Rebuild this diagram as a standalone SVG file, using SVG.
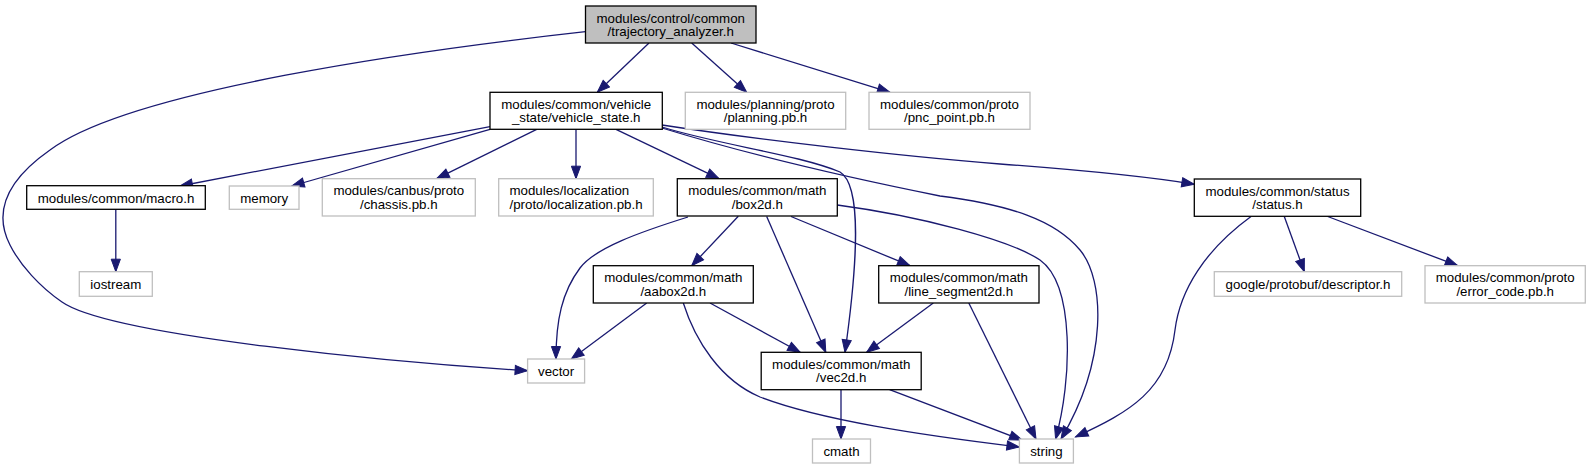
<svg xmlns="http://www.w3.org/2000/svg" width="1591" height="469" viewBox="0 0 1591 469">
<style>
.n rect{fill:#fff;stroke:#000;stroke-width:1.3}
.n.root rect{fill:#bfbfbf}
.n.ext rect{stroke:#bfbfbf}
.n text{font-family:"Liberation Sans",Arial,Helvetica,sans-serif;font-size:13.3px;fill:#000;text-anchor:middle}
.e path{fill:none;stroke:#191970;stroke-width:1.3;marker-end:url(#ah)}
</style>
<defs>
<marker id="ah" markerUnits="userSpaceOnUse" markerWidth="15" markerHeight="12" refX="12.5" refY="4.6" orient="auto" viewBox="-1 -1 15 12">
<path d="M0,0 L12.5,4.6 L0,9.2 z" fill="#191970" stroke="#191970" stroke-width="1"/>
</marker>
</defs>
<rect width="1591" height="469" fill="#fff"/>
<g id="edges" class="e">
<path d="M649,43 L597.3,92.3"/>
<path d="M691.7,43 L746.7,92.3"/>
<path d="M731,43 L890,92.3"/>
<path d="M585.5,31.7 C420,50 130,90 50,150 C10,178 -8,210 10,245 C20,265 40,287 62,302 C110,336 400,363 527.6,370.7"/>
<path d="M490,126.7 L180,186"/>
<path d="M490,129.3 L291.7,186"/>
<path d="M536.7,129.3 L436.7,178.7"/>
<path d="M576,129.3 L576,178.7"/>
<path d="M616,129.3 L719,178.7"/>
<path d="M662,127 C720,145 800,155 840,172 C862,185 858,260 845,352.3"/>
<path d="M662,128 C750,155 860,180 940,196 C1010,205 1055,220 1080,250 C1105,280 1108,360 1061,439"/>
<path d="M662,125 C760,140 900,156 1000,164 C1080,170 1150,177 1194.3,184.3"/>
<path d="M688,217 C640,232 595,248 580,268 C562,292 556,320 556,359"/>
<path d="M738.3,216.3 L691.7,265.7"/>
<path d="M766.7,216.5 L825.8,352.3"/>
<path d="M791,216.5 L910,265.7"/>
<path d="M837.3,205 C920,216 1010,240 1040,260 C1075,285 1072,380 1055.6,439"/>
<path d="M1251,216.5 C1205,250 1180,290 1175,330 C1168,390 1130,412 1075.5,437"/>
<path d="M1284.3,216.5 L1304.3,271.7"/>
<path d="M1327.7,216.5 L1457.7,265.7"/>
<path d="M115.8,209.3 L115.8,271.7"/>
<path d="M646.7,303 L571.4,359"/>
<path d="M710,303 L800.2,352.3"/>
<path d="M683.3,303 C695,340 720,380 760,397 C820,420 920,435 1019.4,447"/>
<path d="M933.3,303 L866.6,352.3"/>
<path d="M968.8,303 L1036,439"/>
<path d="M841,389.7 L841,439"/>
<path d="M889.6,389.7 L1022,440"/>
</g>
<g id="n1" class="n root"><rect x="585.5" y="6" width="170.5" height="37"/><text x="670.7" y="22.7">modules/control/common</text><text x="670.7" y="36">/trajectory_analyzer.h</text></g>
<g id="n2" class="n"><rect x="490" y="92.3" width="172.3" height="37"/><text x="576.2" y="109">modules/common/vehicle</text><text x="576.2" y="122.3">_state/vehicle_state.h</text></g>
<g id="n3" class="n ext"><rect x="685.3" y="92.3" width="160.4" height="37"/><text x="765.5" y="109">modules/planning/proto</text><text x="765.5" y="122.3">/planning.pb.h</text></g>
<g id="n4" class="n ext"><rect x="869" y="92.3" width="161" height="37"/><text x="949.5" y="109">modules/common/proto</text><text x="949.5" y="122.3">/pnc_point.pb.h</text></g>
<g id="n5" class="n"><rect x="26.7" y="185.7" width="178.6" height="23.6"/><text x="116" y="202.7">modules/common/macro.h</text></g>
<g id="n6" class="n ext"><rect x="229.3" y="186" width="69.7" height="23.3"/><text x="264.2" y="202.8">memory</text></g>
<g id="n7" class="n ext"><rect x="322.3" y="178.7" width="153" height="37.3"/><text x="398.8" y="195.4">modules/canbus/proto</text><text x="398.8" y="208.7">/chassis.pb.h</text></g>
<g id="n8" class="n ext"><rect x="498.7" y="178.7" width="154.6" height="37.3"/><text x="509.5" y="195.4" style="text-anchor:start">modules/localization</text><text x="509.5" y="208.7" style="text-anchor:start">/proto/localization.pb.h</text></g>
<g id="n9" class="n"><rect x="677.3" y="178.7" width="160" height="37.3"/><text x="757.3" y="195.4">modules/common/math</text><text x="757.3" y="208.7">/box2d.h</text></g>
<g id="n10" class="n"><rect x="1194.3" y="179" width="166.4" height="37.3"/><text x="1277.5" y="195.7">modules/common/status</text><text x="1277.5" y="209">/status.h</text></g>
<g id="n11" class="n ext"><rect x="79.3" y="271.7" width="73" height="24.6"/><text x="115.8" y="288.7">iostream</text></g>
<g id="n12" class="n"><rect x="593.3" y="265.7" width="160" height="37.3"/><text x="673.3" y="282.4">modules/common/math</text><text x="673.3" y="295.7">/aabox2d.h</text></g>
<g id="n13" class="n"><rect x="878.7" y="265.7" width="160.3" height="37.3"/><text x="958.8" y="282.4">modules/common/math</text><text x="958.8" y="295.7">/line_segment2d.h</text></g>
<g id="n14" class="n ext"><rect x="1214.3" y="271.7" width="187.4" height="24.6"/><text x="1308" y="288.7">google/protobuf/descriptor.h</text></g>
<g id="n15" class="n ext"><rect x="1425" y="265.7" width="160.3" height="37.3"/><text x="1505.2" y="282.4">modules/common/proto</text><text x="1505.2" y="295.7">/error_code.pb.h</text></g>
<g id="n16" class="n ext"><rect x="527.6" y="359" width="57" height="24"/><text x="556.1" y="376">vector</text></g>
<g id="n17" class="n"><rect x="761.2" y="352.3" width="160" height="37.4"/><text x="841.2" y="369">modules/common/math</text><text x="841.2" y="382.3">/vec2d.h</text></g>
<g id="n18" class="n ext"><rect x="812.5" y="439" width="58" height="24"/><text x="841.5" y="456">cmath</text></g>
<g id="n19" class="n ext"><rect x="1019.4" y="439" width="54" height="24"/><text x="1046.4" y="456">string</text></g>
</svg>
